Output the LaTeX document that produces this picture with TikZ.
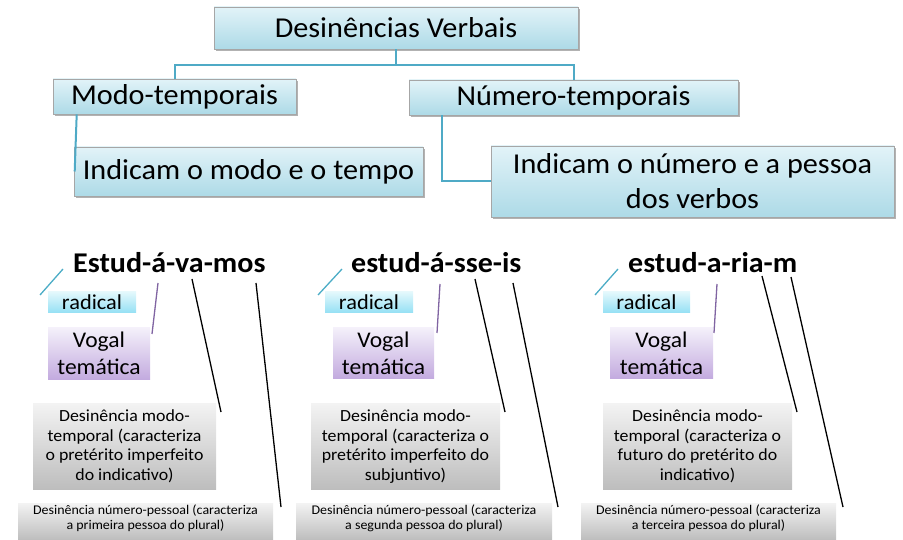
\documentclass[tikz,border=0pt]{standalone}
\usepackage{fontspec}
\setmainfont{Carlito}[FakeStretch=1.05]
\usetikzlibrary{shadows}
\definecolor{conn}{HTML}{4FAAC6}
\definecolor{bluetop}{HTML}{E2F3F8}
\definecolor{bluebot}{HTML}{ADDAE7}
\definecolor{radtop}{HTML}{E3F8FC}
\definecolor{radmid}{HTML}{C6EFFA}
\definecolor{radbot}{HTML}{94E0F4}
\definecolor{vogtop}{HTML}{F4F0FA}
\definecolor{vogmid}{HTML}{E6DDF2}
\definecolor{vogbot}{HTML}{C3ABDF}
\definecolor{graytop}{HTML}{F3F3F3}
\definecolor{graybot}{HTML}{BDBDBD}
\definecolor{rline}{HTML}{4BACC6}
\definecolor{vline}{HTML}{8064A2}
\tikzset{
  topbox/.style={draw=gray!70, line width=0.6pt, top color=bluetop, bottom color=bluebot,
    inner sep=0pt, align=center, font=\fontsize{28.8}{35}\selectfont,
    drop shadow={shadow xshift=2pt, shadow yshift=-2pt, fill=black, opacity=0.3}},
  connector/.style={draw=conn, line width=2pt},
  word/.style={anchor=base west, inner sep=0pt, font=\fontsize{28.6}{32}\selectfont\bfseries},
  radbox/.style={top color=radtop, middle color=radmid, bottom color=radbot, inner sep=0pt,
    minimum height=21pt, font=\fontsize{21.3}{24}\selectfont},
  vogbox/.style={top color=vogtop, middle color=vogmid, bottom color=vogbot, inner sep=0pt,
    align=center, font=\fontsize{22.4}{27}\selectfont},
  modobox/.style={top color=graytop, bottom color=graybot, inner sep=0pt, align=center,
    minimum height=86pt, font=\fontsize{17}{19.5}\selectfont},
  numbox/.style={top color=graytop, bottom color=graybot, inner sep=0pt, minimum height=37pt},
  numtext/.style={inner sep=0pt, align=center, anchor=north, font=\fontsize{13.3}{15}\selectfont},
  radline/.style={draw=rline, line width=1.3pt},
  vogline/.style={draw=vline, line width=1.3pt},
  blackline/.style={draw=black, line width=1.3pt}
}
\begin{document}
\begin{tikzpicture}[x=1pt,y=-1pt]
\useasboundingbox (0,0) rectangle (903,540);
% top part
\node[topbox, minimum width=364pt, minimum height=42pt] (top) at (396,28) {Desinências Verbais};
\node[topbox, minimum width=243pt, minimum height=35pt] (modo) at (174.5,96.5) {Modo-temporais};
\node[topbox, minimum width=329pt, minimum height=35pt] (num) at (573.5,97.5) {Número-temporais};
\node[topbox, minimum width=349pt, minimum height=49pt] (ind1) at (248.5,171.5) {Indicam o modo e o tempo};
\node[topbox, minimum width=403pt, minimum height=71pt] (ind2) at (692.5,181.5) {Indicam o número e a pessoa\\dos verbos};
\coordinate (tj) at (396,65);
\draw[connector] (top.south) -- (tj) -| (modo.north);
\draw[connector] (tj) -| (num.north);
\draw[connector] ([xshift=24pt]modo.south west) -- ([xshift=1pt]ind1.west);
\draw[connector] ([xshift=33pt]num.south west) |- (ind2.west);

% group 1
\node[word] (w1) at (73,273) {Estud-á-va-mos};
\node[radbox, minimum width=88pt] (r1) at (92,302.5) {radical};
\node[vogbox, minimum width=102pt, minimum height=51pt] (v1) at (99,353.5) {Vogal\\temática};
\node[modobox, minimum width=183pt] (m1) at (124.5,446.5) {Desinência modo-\\temporal (caracteriza\\o pretérito imperfeito\\do indicativo)};
\node[numbox, minimum width=255pt] (n1) at (145.5,521.5) {};
\node[numtext] (t1) at ([yshift=-2pt]n1.north) {Desinência número-pessoal (caracteriza\\a primeira pessoa do plural)};
\coordinate (a1) at (40,295); \coordinate (b1) at (63,269);
\coordinate (c1) at (152,334); \coordinate (d1) at (158,283);
\coordinate (e1) at (192,279); \coordinate (f1) at (221,412);
\coordinate (g1) at (256,283); \coordinate (h1) at (281,507);
\draw[radline] (a1) -- (b1);
\draw[vogline] (c1) -- (d1);
\draw[blackline] (e1) -- (f1);
\draw[blackline] (g1) -- (h1);

% group 2
\node[word] (w2) at (351,273) {estud-á-sse-is};
\node[radbox, minimum width=88pt] (r2) at (369,302.5) {radical};
\node[vogbox, minimum width=101pt, minimum height=50pt] (v2) at (383.5,353) {Vogal\\temática};
\node[modobox, minimum width=189pt] (m2) at (405.5,446.5) {Desinência modo-\\temporal (caracteriza o\\pretérito imperfeito do\\subjuntivo)};
\node[numbox, minimum width=256pt] (n2) at (424,521.5) {};
\node[numtext] (t2) at ([yshift=-2pt]n2.north) {Desinência número-pessoal (caracteriza\\a segunda pessoa do plural)};
\coordinate (a2) at (318,295); \coordinate (b2) at (342,269);
\coordinate (c2) at (437,333); \coordinate (d2) at (440,284);
\coordinate (e2) at (475,279); \coordinate (f2) at (505,412);
\coordinate (g2) at (513,283); \coordinate (h2) at (558,507);
\draw[radline] (a2) -- (b2);
\draw[vogline] (c2) -- (d2);
\draw[blackline] (e2) -- (f2);
\draw[blackline] (g2) -- (h2);

% group 3
\node[word] (w3) at (628,273) {estud-a-ria-m};
\node[radbox, minimum width=87pt] (r3) at (646.5,302.5) {radical};
\node[vogbox, minimum width=103pt, minimum height=50pt] (v3) at (661.5,353) {Vogal\\temática};
\node[modobox, minimum width=189pt] (m3) at (697.5,446.5) {Desinência modo-\\temporal (caracteriza o\\futuro do pretérito do\\indicativo)};
\node[numbox, minimum width=255pt] (n3) at (708.5,521.5) {};
\node[numtext] (t3) at ([yshift=-2pt]n3.north) {Desinência número-pessoal (caracteriza\\a terceira pessoa do plural)};
\coordinate (a3) at (595,295); \coordinate (b3) at (618,269);
\coordinate (c3) at (714,333); \coordinate (d3) at (717,284);
\coordinate (e3) at (762,276); \coordinate (f3) at (797,412);
\coordinate (g3) at (791,277); \coordinate (h3) at (843,507);
\draw[radline] (a3) -- (b3);
\draw[vogline] (c3) -- (d3);
\draw[blackline] (e3) -- (f3);
\draw[blackline] (g3) -- (h3);
\end{tikzpicture}
\end{document}
